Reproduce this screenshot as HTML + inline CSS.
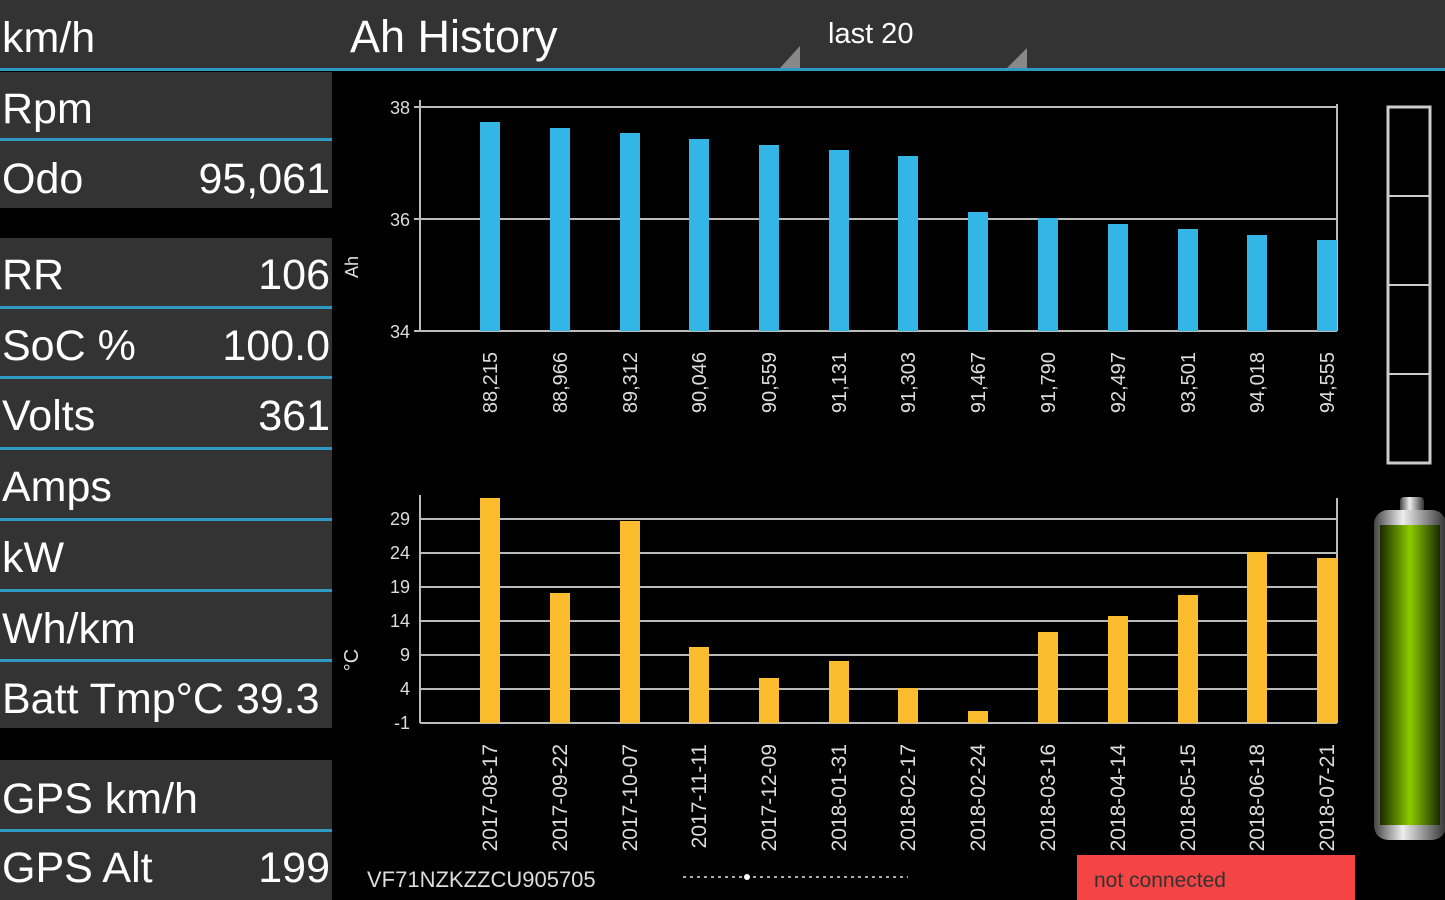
<!DOCTYPE html><html><head><style>
body{margin:0;width:1445px;height:900px;background:#000;overflow:hidden;font-family:"Liberation Sans",sans-serif;color:#fff;position:relative}
.top{position:absolute;left:0;top:0;width:1445px;height:68px;background:#333}
.bl{position:absolute;left:0;height:3px;background:#2e9ac4}
.row{position:absolute;left:0;width:332px;background:#333;font-size:43px;line-height:1}
.row span{position:absolute;left:2px}
.row b{position:absolute;right:2px;font-weight:normal}
</style></head><body>
<div class="top"></div>
<div style="position:absolute;left:2px;top:14px;font-size:43px">km/h</div>
<div style="position:absolute;left:350px;top:11px;font-size:45px">Ah History</div>
<div style="position:absolute;left:828px;top:18px;font-size:29px">last 20</div>
<svg style="position:absolute;left:0;top:0" width="1445" height="72"><polygon points="780,68 800,68 800,46" fill="#888"/><polygon points="1007,68 1027,68 1027,48" fill="#888"/></svg>
<div class="bl" style="top:68px;width:1445px"></div>
<div class="row" style="top:72px;height:67px"><span style="top:16px">Rpm</span></div>
<div class="bl" style="top:138px;width:332px"></div>
<div class="row" style="top:141px;height:67px"><span style="top:17px">Odo</span><b style="top:17px">95,061</b></div>
<div class="row" style="top:238px;height:69px"><span style="top:16px">RR</span><b style="top:16px">106</b></div>
<div class="bl" style="top:306px;width:332px"></div>
<div class="row" style="top:309px;height:68px"><span style="top:16px">SoC %</span><b style="top:16px">100.0</b></div>
<div class="bl" style="top:376px;width:332px"></div>
<div class="row" style="top:379px;height:68px"><span style="top:16px">Volts</span><b style="top:16px">361</b></div>
<div class="bl" style="top:447px;width:332px"></div>
<div class="row" style="top:450px;height:68px"><span style="top:16px">Amps</span></div>
<div class="bl" style="top:518px;width:332px"></div>
<div class="row" style="top:521px;height:68px"><span style="top:16px">kW</span></div>
<div class="bl" style="top:589px;width:332px"></div>
<div class="row" style="top:592px;height:68px"><span style="top:16px">Wh/km</span></div>
<div class="bl" style="top:659px;width:332px"></div>
<div class="row" style="top:662px;height:66px"><span style="top:16px;white-space:nowrap">Batt Tmp°C 39.3</span></div>
<div class="row" style="top:760px;height:70px"><span style="top:18px">GPS km/h</span></div>
<div class="bl" style="top:829px;width:332px"></div>
<div class="row" style="top:832px;height:68px"><span style="top:15px">GPS Alt</span><b style="top:15px">199</b></div>
<svg style="position:absolute;left:0;top:0" width="1445" height="900" font-family="Liberation Sans,sans-serif">
<g stroke="#bbb" stroke-width="2">
<line x1="420" y1="107" x2="1337" y2="107"/><line x1="420" y1="219" x2="1337" y2="219"/><line x1="420" y1="331" x2="1337" y2="331"/>
<line x1="420" y1="100" x2="420" y2="331"/><line x1="1337" y1="104" x2="1337" y2="331"/>
<line x1="414" y1="107" x2="420" y2="107"/><line x1="414" y1="219" x2="420" y2="219"/><line x1="414" y1="331" x2="420" y2="331"/>
<line x1="420" y1="519" x2="1337" y2="519"/><line x1="420" y1="553" x2="1337" y2="553"/><line x1="420" y1="587" x2="1337" y2="587"/><line x1="420" y1="621" x2="1337" y2="621"/><line x1="420" y1="655" x2="1337" y2="655"/><line x1="420" y1="689" x2="1337" y2="689"/><line x1="420" y1="723" x2="1337" y2="723"/>
<line x1="420" y1="495" x2="420" y2="723"/><line x1="1337" y1="498" x2="1337" y2="723"/>
</g>
<g fill="#ddd" font-size="18" text-anchor="end">
<text x="410" y="114">38</text><text x="410" y="226">36</text><text x="410" y="338">34</text>
<text x="410" y="525">29</text><text x="410" y="559">24</text><text x="410" y="593">19</text><text x="410" y="627">14</text><text x="410" y="661">9</text><text x="410" y="695">4</text><text x="410" y="729">-1</text>
</g>
<text transform="translate(358,267) rotate(-90)" fill="#ddd" font-size="18" text-anchor="middle">Ah</text>
<text transform="translate(358,660) rotate(-90)" fill="#ddd" font-size="20" text-anchor="middle">°C</text>
<g fill="#33b5e5">
<rect x="480" y="122" width="20" height="209"/><rect x="550" y="128" width="20" height="203"/><rect x="620" y="133" width="20" height="198"/><rect x="689" y="139" width="20" height="192"/><rect x="759" y="145" width="20" height="186"/><rect x="829" y="150" width="20" height="181"/><rect x="898" y="156" width="20" height="175"/><rect x="968" y="212" width="20" height="119"/><rect x="1038" y="218" width="20" height="113"/><rect x="1108" y="224" width="20" height="107"/><rect x="1178" y="229" width="20" height="102"/><rect x="1247" y="235" width="20" height="96"/><rect x="1317" y="240" width="20" height="91"/>
</g>
<g fill="#fbbd2e">
<rect x="480" y="498" width="20" height="225"/><rect x="550" y="593" width="20" height="130"/><rect x="620" y="521" width="20" height="202"/><rect x="689" y="647" width="20" height="76"/><rect x="759" y="678" width="20" height="45"/><rect x="829" y="661" width="20" height="62"/><rect x="898" y="688" width="20" height="35"/><rect x="968" y="711" width="20" height="12"/><rect x="1038" y="632" width="20" height="91"/><rect x="1108" y="616" width="20" height="107"/><rect x="1178" y="595" width="20" height="128"/><rect x="1247" y="552" width="20" height="171"/><rect x="1317" y="558" width="20" height="165"/>
</g>
<g fill="#ddd" font-size="20" text-anchor="end">
<text transform="translate(497,352) rotate(-90)">88,215</text><text transform="translate(567,352) rotate(-90)">88,966</text><text transform="translate(637,352) rotate(-90)">89,312</text><text transform="translate(706,352) rotate(-90)">90,046</text><text transform="translate(776,352) rotate(-90)">90,559</text><text transform="translate(846,352) rotate(-90)">91,131</text><text transform="translate(915,352) rotate(-90)">91,303</text><text transform="translate(985,352) rotate(-90)">91,467</text><text transform="translate(1055,352) rotate(-90)">91,790</text><text transform="translate(1125,352) rotate(-90)">92,497</text><text transform="translate(1195,352) rotate(-90)">93,501</text><text transform="translate(1264,352) rotate(-90)">94,018</text><text transform="translate(1334,352) rotate(-90)">94,555</text>
</g>
<g fill="#ddd" font-size="21" text-anchor="end">
<text transform="translate(497,744) rotate(-90)">2017-08-17</text><text transform="translate(567,744) rotate(-90)">2017-09-22</text><text transform="translate(637,744) rotate(-90)">2017-10-07</text><text transform="translate(706,744) rotate(-90)">2017-11-11</text><text transform="translate(776,744) rotate(-90)">2017-12-09</text><text transform="translate(846,744) rotate(-90)">2018-01-31</text><text transform="translate(915,744) rotate(-90)">2018-02-17</text><text transform="translate(985,744) rotate(-90)">2018-02-24</text><text transform="translate(1055,744) rotate(-90)">2018-03-16</text><text transform="translate(1125,744) rotate(-90)">2018-04-14</text><text transform="translate(1195,744) rotate(-90)">2018-05-15</text><text transform="translate(1264,744) rotate(-90)">2018-06-18</text><text transform="translate(1334,744) rotate(-90)">2018-07-21</text>
</g>
<text x="367" y="887" fill="#ddd" font-size="22">VF71NZKZZCU905705</text>
<line x1="683" y1="877" x2="908" y2="877" stroke="#aaa" stroke-width="2" stroke-dasharray="3,4"/><circle cx="747" cy="877" r="3" fill="#fff"/>
<rect x="1077" y="855" width="278" height="45" fill="#f44444"/>
<text x="1094" y="887" fill="#333" font-size="21">not connected</text>
<rect x="1388" y="107" width="42" height="356" fill="none" stroke="#ccc" stroke-width="3"/>
<g stroke="#ccc" stroke-width="2"><line x1="1388" y1="196" x2="1430" y2="196"/><line x1="1388" y1="285" x2="1430" y2="285"/><line x1="1388" y1="374" x2="1430" y2="374"/></g>
<defs><linearGradient id="g" x1="0" x2="1"><stop offset="0" stop-color="#1a2a00"/><stop offset=".5" stop-color="#8ccc00"/><stop offset="1" stop-color="#1a2a00"/></linearGradient>
<linearGradient id="m" x1="0" x2="1"><stop offset="0" stop-color="#444"/><stop offset=".4" stop-color="#eee"/><stop offset="1" stop-color="#333"/></linearGradient></defs>
<rect x="1400" y="497" width="24" height="16" rx="4" fill="url(#m)"/>
<rect x="1374" y="510" width="72" height="330" rx="14" fill="url(#m)"/>
<rect x="1380" y="525" width="60" height="300" fill="url(#g)"/>
</svg>
</body></html>
